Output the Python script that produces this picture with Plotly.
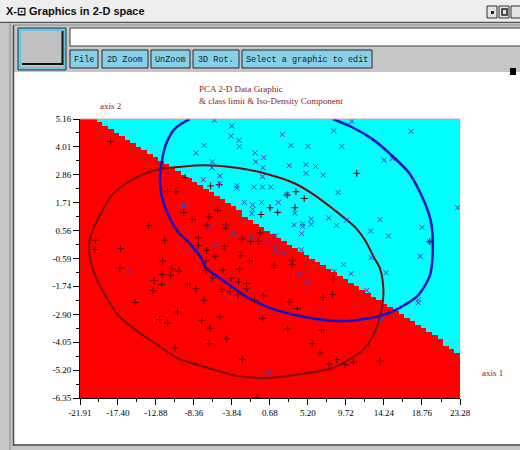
import numpy as np
import plotly.graph_objects as go

# ---------------- data ----------------
x_tick_labels = ["-21.91", "-17.40", "-12.88", "-8.36", "-3.84", "0.68",
                 "5.20", "9.72", "14.24", "18.76", "23.28"]
y_tick_labels = ["5.16", "4.01", "2.86", "1.71", "0.56", "-0.59",
                 "-1.74", "-2.90", "-4.05", "-5.20", "-6.35"]

# class 1 points ('+')
class1_x = [-18.26, -9.40, -11.50, -10.50, -9.57, -8.57, -13.75, -20.07, -20.13, -17.08,
            -11.85, -7.83, -7.83, -6.85, -6.37, -5.36, -5.54, -6.55, -4.57, -4.57,
            -6.79, -2.64, -1.63, -0.66, -0.50, -5.84, -4.77, -2.87, -1.75, 0.69,
            1.60, -0.38, 2.73, 3.77, 4.75, 3.65, 11.00, 19.69, 8.22, 8.12,
            8.63, 9.60, 10.59, 13.76, 3.33, 3.33, 1.16, -4.89, -2.97, -6.88,
            -3.94, -6.16, -3.05, -2.08, -2.08, -5.04, -4.06, -3.15, -1.15, -0.11,
            2.97, 3.92, 7.01, -5.25, -0.18, -6.43, 2.80, 6.82, -4.45, -6.53,
            5.70, 6.62, -2.58, 7.68, -0.89, -17.17, -12.07, -11.00, -10.13, -12.15,
            -11.12, -13.10, -12.18, -13.23, -9.12, -8.13, -7.14, -15.35, -10.32, -12.44,
            -11.51, -7.44, -10.61, -6.94]
class1_y = [4.23, 2.74, 2.18, 2.16, 1.30, 1.01, 0.76, 0.16, -0.22, -0.19,
            0.16, 0.26, -0.06, -0.26, 2.40, 2.45, 1.38, 1.12, 0.79, 0.65,
            0.77, 0.21, 0.11, 0.11, 0.46, -0.50, -0.09, -0.48, -0.70, 1.50,
            1.31, 1.22, 2.03, 2.16, 1.88, 1.50, 2.92, 0.10, -1.45, -2.08,
            -4.76, -4.97, -4.87, -4.82, -0.67, -0.85, -0.89, -1.07, -1.03, -1.09,
            -1.40, -1.40, -1.56, -1.63, -1.84, -1.88, -1.96, -2.10, -2.32, -2.14,
            -2.39, -2.66, -2.21, -3.01, -3.06, -3.47, -3.50, -3.54, -3.91, -4.11,
            -4.11, -4.49, -4.76, -4.95, -6.33, -0.99, -0.70, -1.03, -1.11, -1.26,
            -1.30, -1.50, -1.67, -1.92, -1.65, -1.84, -2.32, -2.41, -2.80, -3.11,
            -3.26, -3.14, -4.29, -0.70]

# class 2 points ('x')
class2_x = [-8.13, -7.14, -7.24, -9.60, -5.92, -3.86, -3.94, -2.99, -2.97, 2.14,
            3.18, 5.19, 8.25, -1.09, -0.06, -1.01, -6.16, -6.23, -0.15, 2.97,
            4.96, 4.96, 6.11, 7.01, -5.28, -5.28, -0.20, -3.26, -3.26, -1.21,
            -0.20, 0.78, -2.36, -1.39, -0.32, 1.67, -1.39, -1.45, 3.65, 5.58,
            5.58, 4.56, 4.56, 3.56, 4.45, 7.68, 1.34, 1.34, 1.34, 1.34,
            2.26, 4.40, -1.49, 0.29, -3.62, -5.76, -6.63, 10.41, 17.47, 9.23,
            14.24, 15.25, 8.77, 23.01, 8.60, 9.78, 13.76, 12.66, 14.78, 18.77,
            19.69, 12.70, 18.57, 9.43, 8.34, 10.33, 14.48, 12.19, 18.32, 18.32,
            13.97, 12.99, 4.24, 5.16, 5.16, 0.48, -16.13, 2.70]
class2_y = [3.76, 4.07, 2.66, 1.59, 5.11, 4.87, 4.46, 4.28, 4.02, 4.52,
            4.07, 4.03, 4.67, 3.76, 3.57, 3.39, 3.39, 3.15, 3.15, 3.24,
            3.28, 2.92, 3.20, 2.85, 2.81, 2.49, 2.78, 2.42, 2.31, 2.35,
            2.35, 2.35, 1.72, 1.62, 1.72, 1.72, 1.43, 1.26, 1.27, 1.03,
            0.81, 0.84, 0.73, 0.79, 0.43, 1.08, 0.34, 0.07, -0.12, -0.33,
            -0.37, -0.23, 0.25, 0.09, 0.43, -0.04, 0.71, 5.06, 4.65, 4.03,
            3.46, 3.53, 2.13, 1.50, 0.77, 0.98, 1.01, 0.54, 0.33, 0.69,
            0.10, -0.56, -0.50, -0.85, -1.12, -1.22, -1.18, -1.91, -2.30, -2.42,
            -3.10, -3.57, -1.22, -1.56, -1.84, -5.31, -1.11, 2.05]

# iso-density contour of class 1 (dark red)
iso1_x = [-20.70, -20.78, -20.31, -19.32, -18.14, -16.16, -14.18, -12.21, -10.23, -7.02,
          -3.07, 0.09, 3.65, 6.02, 8.40, 9.62, 10.80, 11.99, 13.08, 13.77,
          14.17, 14.05, 13.58, 12.78, 11.83, 9.94, 8.04, 4.84, 0.48, -3.07,
          -6.67, -10.23, -12.60, -14.97, -17.34, -18.92, -20.11, -20.70]
iso1_y = [-0.60, 0.09, 0.64, 1.32, 2.01, 2.56, 2.91, 3.11, 3.18, 3.25,
          3.14, 2.91, 2.50, 2.01, 1.39, 1.05, 0.70, 0.16, -0.57, -1.01,
          -1.84, -2.53, -3.21, -3.90, -4.34, -4.79, -5.12, -5.34, -5.52, -5.44,
          -5.11, -4.72, -4.18, -3.63, -2.94, -2.11, -1.29, -0.60]

# iso-density contour of class 2 (blue)
iso2_x = [-8.84, -10.62, -11.73, -12.40, -12.21, -11.41, -10.23, -9.04, -7.46, -7.02,
          -4.65, -1.89, 0.89, 4.84, 8.40, 10.80, 13.97, 15.95, 18.32, 19.70,
          20.02, 19.90, 19.51, 18.51, 17.14, 15.16, 12.78, 10.41, 8.16]
iso2_y = [5.16, 4.76, 4.07, 2.84, 2.01, 1.19, 0.50, 0.09, -0.60, -0.95,
          -1.56, -2.22, -2.66, -3.01, -3.17, -3.14, -2.94, -2.66, -2.11, -1.29,
          -0.46, 0.78, 1.32, 2.15, 2.97, 3.66, 4.35, 4.83, 5.16]

# class limit (linear discriminant) through two points
limit_x = [-20.11, 23.28]
limit_y = [5.16, -4.49]

# ---------------- figure ----------------
x_ticks = [float(v) for v in x_tick_labels]
y_ticks = [float(v) for v in y_tick_labels]
x_lo, x_hi = x_ticks[0], x_ticks[-1]
y_lo, y_hi = y_ticks[-1], y_ticks[0]

# class regions on a coarse grid (gives the staircase look)
nx, ny = 68, 80
dx = (x_hi - x_lo) / nx
dy = (y_hi - y_lo) / ny
gx = x_lo + dx * (np.arange(nx) + 0.5)
gy = y_lo + dy * (np.arange(ny) + 0.5)
slope = (limit_y[1] - limit_y[0]) / (limit_x[1] - limit_x[0])
line_at = limit_y[0] + slope * (gx - limit_x[0])
zgrid = (gy[:, None] > line_at[None, :]).astype(int)

fig = go.Figure()
fig.add_trace(go.Heatmap(x=gx, y=gy, z=zgrid, zmin=0, zmax=1,
                         colorscale=[[0, "#ff0000"], [0.5, "#ff0000"], [0.5, "#00ffff"], [1, "#00ffff"]],
                         showscale=False, hoverinfo="skip", zsmooth=False))
fig.add_trace(go.Scatter(x=iso1_x, y=iso1_y, mode="lines",
                         line=dict(color="#7a0c0c", width=2, shape="spline", smoothing=0.8)))
fig.add_trace(go.Scatter(x=iso2_x, y=iso2_y, mode="lines",
                         line=dict(color="#1010c8", width=2.5, shape="spline", smoothing=0.8)))
fig.add_trace(go.Scatter(x=class1_x, y=class1_y, mode="markers",
                         marker=dict(symbol="cross-thin", size=5, line=dict(color="#640000", width=1))))
fig.add_trace(go.Scatter(x=class2_x, y=class2_y, mode="markers",
                         marker=dict(symbol="x-thin", size=5, line=dict(color="#3c3cc8", width=1))))

minor_x = [(a + b) / 2 for a, b in zip(x_ticks[:-1], x_ticks[1:])]
minor_y = [(a + b) / 2 for a, b in zip(y_ticks[:-1], y_ticks[1:])]
tick_font = dict(family="Liberation Serif, Times New Roman, serif", size=9, color="black")

fig.update_xaxes(range=[x_lo, x_hi], tickmode="array", tickvals=x_ticks, ticktext=x_tick_labels,
                 ticks="outside", ticklen=6, tickcolor="black", tickwidth=1,
                 showline=True, linecolor="black", linewidth=1, showgrid=False, zeroline=False,
                 tickfont=tick_font,
                 minor=dict(tickmode="array", tickvals=minor_x, ticks="outside", ticklen=3,
                            tickcolor="black", showgrid=False))
fig.update_yaxes(range=[y_lo, y_hi], tickmode="array", tickvals=y_ticks, ticktext=y_tick_labels,
                 ticks="outside", ticklen=6, tickcolor="black", tickwidth=1,
                 showline=True, linecolor="black", linewidth=1, showgrid=False, zeroline=False,
                 tickfont=tick_font,
                 minor=dict(tickmode="array", tickvals=minor_y, ticks="outside", ticklen=3,
                            tickcolor="black", showgrid=False))

# ---------------- window chrome (pixel -> paper helpers) ----------------
W, H = 520, 450
ML, MR, MT, MB = 80, 60, 119, 52
PW, PH = W - ML - MR, H - MT - MB


def px(x):
    return (x - ML) / PW


def py(y):
    return (H - MB - y) / PH


shapes = []


def rect(x0, y0, x1, y1, fill, line=None, lw=0):
    shapes.append(dict(type="rect", xref="paper", yref="paper", layer="above",
                       x0=px(x0), x1=px(x1), y0=py(y1), y1=py(y0),
                       fillcolor=fill, line=dict(color=line or fill, width=lw)))


def hline(x0, x1, y, color, w=1):
    shapes.append(dict(type="line", xref="paper", yref="paper", layer="above",
                       x0=px(x0), x1=px(x1), y0=py(y), y1=py(y), line=dict(color=color, width=w)))


def vline(x, y0, y1, color, w=1):
    shapes.append(dict(type="line", xref="paper", yref="paper", layer="above",
                       x0=px(x), x1=px(x), y0=py(y0), y1=py(y1), line=dict(color=color, width=w)))


annotations = []


def text(x, y, s, font, anchor="left"):
    annotations.append(dict(x=px(x), y=py(y), xref="paper", yref="paper", text=s, showarrow=False,
                            xanchor=anchor, yanchor="middle", font=font))


# title bar
rect(0, 0, 520, 22, "#eeeeee")
hline(0, 520, 22.5, "#555555", 1.5)
text(4, 11.5, "<b>X-⊡ Graphics in 2-D space</b>",
     dict(family="Liberation Sans, Arial, sans-serif", size=11, color="#111111"))
for bx in (487, 499):
    rect(bx, 6, bx + 10, 18, "#e4e4e4", "#333333", 1)
rect(491, 11, 494, 14, "#222222")
rect(502, 9, 507, 15, "#e4e4e4", "#222222", 1.5)
rect(511, 6, 522, 18, "#e4e4e4", "#333333", 1)

# toolbar area
rect(0, 23, 520, 72, "#c6c6c6")
rect(0, 72, 14, 450, "#c6c6c6")
rect(0, 444, 520, 450, "#c6c6c6")
vline(10, 23, 450, "#8a8a8a", 1)
vline(13.5, 25, 446, "#4a4a4a", 1.5)
hline(13.5, 520, 445, "#4a4a4a", 1.5)
hline(13.5, 520, 25, "#8a8a8a", 1)

# big square button
rect(18, 28, 66, 70, "#62c6e4", "#333333", 1)
rect(21, 31, 63, 67, "#c0c0c0")
hline(22, 63, 64, "#111111", 2)
vline(62.5, 31, 65, "#111111", 2)

# text field
rect(70, 28, 522, 46, "#ffffff", "#404040", 1)

# buttons
btn_font = dict(family="Liberation Mono, DejaVu Sans Mono, monospace", size=8.5, color="#1a1a1a")
for (b0, b1, label) in [(70, 98, "File"), (102, 148, "2D Zoom"), (151, 190, "UnZoom"),
                        (193, 239, "3D Rot."), (242, 372, "Select a graphic to edit")]:
    rect(b0, 50, b1, 68, "#86d0ea", "#2a2a2a", 1)
    text((b0 + b1) / 2, 59.5, label, btn_font, anchor="center")

rect(510, 68, 516, 75, "#000000")

# thin top frame of the plot
hline(ML, W - MR, MT, "#e89a9a", 1)

# chart texts
title_font = dict(family="Liberation Serif, Times New Roman, serif", size=9, color="#8b1a1a")
text(197, 89, "PCA 2-D Data Graphic", title_font)
text(197, 101, "&amp; class limit &amp; Iso-Density Component", title_font)
text(98, 106, "axis 2", title_font)
text(480, 373, "axis 1", title_font)

fig.update_layout(width=W, height=H, autosize=False,
                  margin=dict(l=ML, r=MR, t=MT, b=MB, pad=0),
                  paper_bgcolor="white", plot_bgcolor="white",
                  showlegend=False, shapes=shapes, annotations=annotations)

fig.write_html("out.html", config={"displayModeBar": False},
               post_script="document.body.style.margin='0';document.body.style.overflow='hidden';")
